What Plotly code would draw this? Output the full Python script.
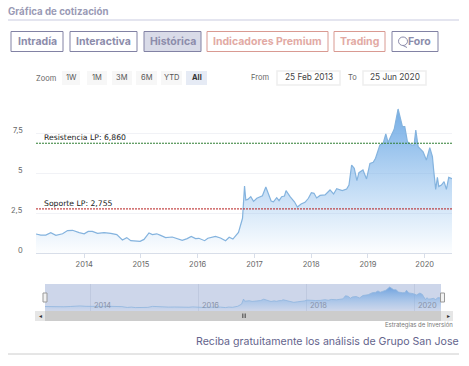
import plotly.graph_objects as go

W, H = 469, 366

dates = ["2013-02-25","2013-03-28","2013-04-29","2013-05-31","2013-07-03","2013-08-15","2013-09-16","2013-10-18","2013-11-30","2014-01-01",
"2014-01-27","2014-02-23","2014-03-28","2014-05-09","2014-06-21","2014-07-30","2014-09-04","2014-10-02","2014-10-28","2014-11-29",
"2014-12-27","2015-01-21","2015-02-22","2015-03-16","2015-04-13","2015-05-08","2015-06-09","2015-07-22","2015-08-23","2015-09-24",
"2015-10-26","2015-11-21","2015-12-19","2016-01-09","2016-02-15","2016-03-07","2016-04-25","2016-05-27","2016-06-29","2016-07-22",
"2016-08-15","2016-08-30","2016-09-20","2016-10-16","2016-10-29","2016-11-06","2016-11-19","2016-12-08","2016-12-26","2017-01-16",
"2017-02-21","2017-03-15","2017-04-01","2017-04-18","2017-05-03","2017-05-24","2017-06-08","2017-06-25","2017-07-13","2017-07-23",
"2017-08-18","2017-09-15","2017-10-04","2017-10-28","2017-11-22","2017-12-14","2018-01-02","2018-01-19","2018-02-05","2018-02-27",
"2018-03-31","2018-05-02","2018-05-25","2018-06-14","2018-07-20","2018-08-17","2018-09-01","2018-09-18","2018-10-05","2018-10-22",
"2018-11-04","2018-11-30","2018-12-23","2019-01-14","2019-02-04","2019-02-19","2019-03-19","2019-04-09","2019-04-26","2019-05-11",
"2019-05-26","2019-06-19","2019-07-14","2019-07-29","2019-08-11","2019-08-26","2019-09-12","2019-10-08","2019-10-25","2019-11-05",
"2019-11-20","2019-12-22","2020-01-12","2020-02-03","2020-02-20","2020-02-28","2020-03-12","2020-03-23","2020-04-01","2020-04-18",
"2020-05-05","2020-05-20","2020-06-04","2020-06-25"]
prices = [1.19,1.12,1.12,1.27,1.10,1.20,1.40,1.42,1.27,1.20,
1.35,1.35,1.23,1.27,1.23,1.15,0.81,0.96,0.77,0.77,
0.73,0.85,1.25,1.15,1.20,1.10,0.96,1.00,0.90,0.79,
0.90,1.04,0.90,0.92,0.77,0.92,1.04,0.94,0.77,0.98,
0.87,1.02,1.29,2.17,4.19,3.31,3.35,3.52,3.23,3.42,
3.58,4.12,3.73,3.25,3.20,3.46,3.27,3.52,3.56,3.90,
3.52,3.20,2.87,3.06,3.17,3.42,3.77,3.73,3.44,3.60,
3.63,3.94,3.69,4.02,3.90,4.00,4.25,5.50,5.29,4.52,
5.02,5.19,4.63,5.60,5.67,5.92,6.75,6.85,7.44,6.90,
7.23,7.73,9.00,8.42,7.90,7.90,6.96,6.75,6.75,7.69,
6.65,6.33,5.81,6.58,6.02,5.19,3.98,4.73,4.15,4.25,
4.46,3.98,4.73,4.65]
date_range = ["2013-02-25", "2020-06-25"]
resistance = 6.86
support = 2.755
y_ticks = [0, 2.5, 5, 7.5, 10]
y_labels = ["0", "2,5", "5", "7,5", ""]
x_ticks = ["2014-01-01","2015-01-01","2016-01-01","2017-01-01","2018-01-01","2019-01-01","2020-01-01"]
x_labels = ["2014","2015","2016","2017","2018","2019","2020"]
nav_ticks = ["2014-01-01","2016-01-01","2018-01-01","2020-01-01"]
nav_labels = ["2014","2016","2018","2020"]
range_buttons = ["1W","1M","3M","6M","YTD","All"]
FONT = "Inter, Lato, sans-serif"

def px(x): return x / W
def py(y): return 1 - y / H

shapes, annos = [], []

def rect(x0, y0, x1, y1, fill="rgba(0,0,0,0)", line="rgba(0,0,0,0)", lw=1, layer="above"):
    shapes.append(dict(type="rect", xref="paper", yref="paper", x0=px(x0), x1=px(x1), y0=py(y0), y1=py(y1),
                       fillcolor=fill, line=dict(color=line, width=lw), layer=layer))

def seg(x0, y0, x1, y1, color, lw=1, layer="above"):
    shapes.append(dict(type="line", xref="paper", yref="paper", x0=px(x0), x1=px(x1), y0=py(y0), y1=py(y1),
                       line=dict(color=color, width=lw), layer=layer))

def text(x, y, s, size, color, anchor="center", family=FONT):
    annos.append(dict(xref="paper", yref="paper", x=px(x), y=py(y), text=s, showarrow=False, xanchor=anchor,
                      yanchor="middle", font=dict(size=size, color=color, family=family),
                      borderpad=0, borderwidth=0))

# page header
text(8, 11.5, "<b>Gráfica de cotización</b>", 9.7, "#9a9ab5", "left")
seg(8, 20, 459, 20, "#c9cbe0", layer="below")
tabs = [("Intradía", 11, 63, "#8282a4", "#8c8cab", "#ffffff"),
        ("Interactiva", 70, 137, "#8282a4", "#8c8cab", "#ffffff"),
        ("Histórica", 144, 201, "#8282a4", "#8c8cab", "#d9dbe8"),
        ("Indicadores Premium", 207, 328, "#d99a92", "#e2aaa4", "#ffffff"),
        ("Trading", 334, 385, "#d99a92", "#e2aaa4", "#ffffff"),
        ("Foro", 392, 438, "#8282a4", "#8c8cab", "#ffffff")]
for name, x0, x1, border, color, fill in tabs:
    rect(x0, 31.5, x1, 51.5, fill=fill, line=border, lw=1)
    cx = (x0 + x1) / 2 + (4 if name == "Foro" else 0)
    text(cx, 41.5, f"<b>{name}</b>", 10.5, color)
shapes.append(dict(type="circle", xref="paper", yref="paper", x0=px(398.5), x1=px(407.5), y0=py(45.5), y1=py(37),
                   line=dict(color="#8c8cab", width=1)))
seg(403, 45.5, 407, 47.5, "#8c8cab")

# range selector row
text(36, 78, "Zoom", 7.5, "#666666", "left")
btn_edges = [(62, 80), (87, 107), (112, 132), (136, 157), (161, 182), (186, 207)]
for name, (x0, x1) in zip(range_buttons, btn_edges):
    active = name == "All"
    rect(x0, 71, x1, 85, fill="#e6ebf5" if active else "#f7f7f7")
    text((x0 + x1) / 2, 77.5, f"<b>{name}</b>" if active else name, 7.5, "#333333" if active else "#555555")
text(251, 77.5, "From", 7.5, "#666666", "left")
text(348, 77.5, "To", 7.5, "#666666", "left")
rect(277, 71, 340, 85, line="#eeeeee", lw=1.5)
rect(363, 71, 426, 85, line="#eeeeee", lw=1.5)
text(308.5, 77.5, "25 Feb 2013", 8.3, "#444444")
text(394.5, 77.5, "25 Jun 2020", 8.3, "#444444")

# value axis labels, raised above their grid lines
for v, lab in zip(y_ticks, y_labels):
    if lab:
        annos.append(dict(xref="paper", yref="y", x=px(25), y=v, yshift=3, text=lab, showarrow=False, xanchor="right",
                          yanchor="middle", font=dict(size=7.5, color="#666666", family=FONT)))

# long-term level labels
for level, lab in ((resistance, "Resistencia LP: 6,860"), (support, "Soporte LP: 2,755")):
    annos.append(dict(xref="paper", yref="y", x=px(41.5), y=level, yshift=5.5, text=lab, showarrow=False, xanchor="left",
                      yanchor="middle", font=dict(size=7.7, color="#222222", family="DejaVu Sans, sans-serif")))

# navigator + scrollbar chrome
NAV_L, NAV_R = 45, 441
rect(NAV_L, 284, NAV_R, 311, fill="#cdd6ea", layer="below")
rect(35, 311, 453, 321, fill="#e6e6e6")
rect(NAV_L, 311, NAV_R, 321, fill="#cccccc")
text(40, 315.5, "◂", 6, "#333333")
text(448, 315.5, "▸", 6, "#333333")
for gx in (242.5, 244, 245.5):
    seg(gx, 313.5, gx, 318, "#555555", lw=0.8)
for hx in (45, 442.5):
    rect(hx - 2, 293, hx + 2, 302, fill="#f2f2f2", line="#999999")
for t, lab in zip(nav_ticks, nav_labels):
    annos.append(dict(xref="x2", yref="paper", x=t, y=py(305), xshift=1, text=lab, showarrow=False, xanchor="left",
                      yanchor="middle", font=dict(size=7.5, color="#8a93a8", family=FONT)))

# footer
text(453, 325, "Estrategias de Inversión", 6, "#777777", "right")
text(459, 341, "Reciba gratuitamente los análisis de Grupo San Jose", 10.6, "#64648c", "right")
seg(8, 354, 459, 354, "#cccccc", layer="below")

fig = go.Figure()
grad = dict(type="vertical", colorscale=[[0, "rgba(124,181,236,0.02)"], [1, "rgba(108,168,228,0.95)"]])
fig.add_trace(go.Scatter(x=dates, y=prices, mode="lines", fill="tozeroy", fillgradient=grad,
                         line=dict(color="#84b3de", width=1.2), showlegend=False, hoverinfo="x+y"))
fig.add_trace(go.Scatter(x=date_range, y=[resistance, resistance], mode="lines",
                         line=dict(color="#2e7d32", width=1, dash="2px,1px"), showlegend=False))
fig.add_trace(go.Scatter(x=date_range, y=[support, support], mode="lines",
                         line=dict(color="#b71c1c", width=1, dash="2px,1px"), showlegend=False))
fig.add_trace(go.Scatter(x=dates, y=prices, mode="lines", fill="tozeroy", xaxis="x2", yaxis="y2",
                         fillgradient=dict(type="vertical", colorscale=[[0, "rgba(124,181,236,0.05)"], [1, "rgba(100,155,220,0.9)"]]),
                         line=dict(color="#8fb5de", width=0.8), showlegend=False))

fig.update_layout(
    width=W, height=H, autosize=False, margin=dict(l=0, r=0, t=0, b=0),
    paper_bgcolor="white", plot_bgcolor="rgba(0,0,0,0)",
    font=dict(family=FONT), shapes=shapes, annotations=annos, hovermode="closest",
    xaxis=dict(domain=[px(36), px(452)], range=date_range, type="date", tickmode="array", tickvals=x_ticks, ticktext=x_labels,
               showgrid=False, ticks="outside", ticklen=4, tickcolor="#d8dee9", showline=True, linecolor="#d8dee9",
               tickfont=dict(size=7.5, color="#666666", family=FONT), anchor="y", fixedrange=True),
    yaxis=dict(domain=[py(253), py(93)], range=[0, 10], tickmode="array", tickvals=y_ticks, showticklabels=False,
               showgrid=True, gridcolor="#f1f2f6", gridwidth=1, zeroline=False, ticks="", fixedrange=True),
    xaxis2=dict(domain=[px(NAV_L), px(NAV_R)], range=date_range, type="date", tickmode="array", tickvals=nav_ticks,
                showticklabels=False, showgrid=True, gridcolor="#bfc9df", ticks="", anchor="y2", zeroline=False, fixedrange=True),
    yaxis2=dict(domain=[py(311), py(284)], range=[-0.6, 10.2], showticklabels=False, showgrid=False, zeroline=False,
                ticks="", anchor="x2", fixedrange=True),
)
fig.write_html("out.html", config=dict(displayModeBar=False),
               post_script="document.body.style.margin='0';document.documentElement.style.overflow='hidden';")
